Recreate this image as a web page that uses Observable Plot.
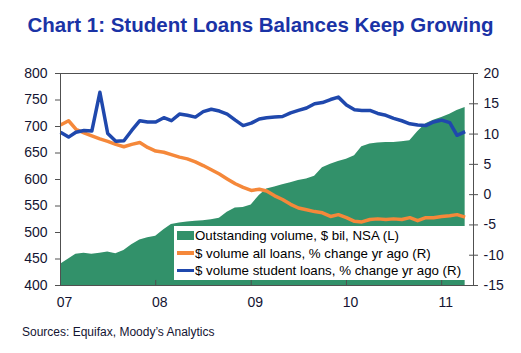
<!DOCTYPE html>
<html>
<head>
<meta charset="utf-8">
<script src="https://cdn.jsdelivr.net/npm/d3@7"></script>
<script src="https://cdn.jsdelivr.net/npm/@observablehq/plot@0.6"></script>
<style>
  body { margin: 0; background: #fff; font-family: "Liberation Sans", Arial, sans-serif; }
  #wrap { position: relative; width: 521px; height: 353px; overflow: hidden; }
  #title { height: 48px; position: relative; }
  #title span { position: absolute; left: 0; width: 521px; top: 15px; text-align: center;
    font: bold 20.5px/20.5px "Liberation Sans", Arial, sans-serif; color: #1a33a6; white-space: nowrap; }
  #caption { height: 35px; position: relative; }
  #caption span { position: absolute; left: 22px; top: 8px; font: 12px/12px "Liberation Sans", Arial, sans-serif; color: #141432; }
  #legend { position: absolute; left: 174px; top: 226px; width: 291px; height: 54px; background: #fff; }
  .row { position: absolute; left: 3px; height: 17px; display: flex; align-items: center;
    font: 13.3px/17px "Liberation Sans", Arial, sans-serif; color: #000; white-space: nowrap; }
  .sw { width: 17px; margin-right: 1px; }
</style>
</head>
<body>
<div id="wrap">
  <div id="title"><span>Chart 1: Student Loans Balances Keep Growing</span></div>
  <div id="chart"></div>
  <div id="caption"><span>Sources: Equifax, Moody’s Analytics</span></div>
  <div id="legend"></div>
</div>
<script>
// ---- data (monthly, Jan 2007 – Apr 2011) ----
const startMonth = "2007-01-01";
const volume = [440, 450, 459, 461, 459, 461, 463, 460, 466, 477, 486, 490,
  493, 505, 515, 518, 520, 521, 522, 524, 527, 538, 546, 547,
  552, 570, 582, 586, 590, 594, 598, 601, 606, 622, 629, 634,
  638, 645, 662, 667, 669, 670, 670, 671, 673, 690, 705, 712,
  717, 723, 730, 736];
const allLoans = [11.5, 12.2, 10.8, 10.2, 9.7, 9.2, 8.8, 8.3, 7.9, 8.3, 8.6, 7.8,
  7.2, 7.0, 6.6, 6.2, 5.9, 5.4, 4.8, 4.1, 3.4, 2.6, 1.8, 1.2,
  0.7, 0.9, 0.6, -0.2, -0.8, -1.6, -2.2, -2.5, -2.8, -3.0, -3.6, -3.3,
  -3.8, -4.4, -4.5, -4.1, -4.0, -4.1, -4.0, -4.1, -3.8, -4.3, -3.8, -3.8,
  -3.6, -3.5, -3.3, -3.7];
const studentLoans = [10.3, 9.5, 10.3, 10.6, 10.5, 16.9, 10.1, 8.8, 8.9, 10.6, 12.2, 12.0,
  12.0, 12.7, 12.2, 13.3, 13.1, 12.8, 13.7, 14.1, 13.8, 13.3, 12.3, 11.4,
  11.8, 12.5, 12.7, 12.8, 12.9, 13.5, 13.9, 14.3, 15.0, 15.2, 15.7, 16.1,
  14.8, 14.0, 13.9, 13.9, 13.4, 13.1, 12.6, 12.2, 11.7, 11.5, 11.4, 12.0,
  12.3, 11.9, 9.8, 10.4];
const xTickYears = ["2007", "2008", "2009", "2010", "2011"];
const xTickLabels = ["07", "08", "09", "10", "11"];
const leftTicks = [400, 450, 500, 550, 600, 650, 700, 750, 800];
const rightTicks = [-15, -10, -5, 0, 5, 10, 15, 20];
const seriesNames = ["Outstanding volume, $ bil, NSA (L)",
  "$ volume all loans, % change yr ago (R)",
  "$ volume student loans, % change yr ago (R)"];
const colors = ["#32916a", "#f5883a", "#1f48ad"];

// ---- build table ----
const start = new Date(startMonth + "T00:00:00Z");
const dates = volume.map((_, i) => d3.utcMonth.offset(start, i));
const rows = dates.map((date, i) => ({date, volume: volume[i], all: allLoans[i], student: studentLoans[i]}));

// right axis (-15..20) mapped onto left axis (400..800)
const L0 = 400, L1 = 800, R0 = -15, R1 = 20;
const toLeft = v => L0 + (v - R0) * (L1 - L0) / (R1 - R0);
const fromLeft = v => R0 + (v - L0) * (R1 - R0) / (L1 - L0);

const yearDates = xTickYears.map(y => new Date(y + "-01-01T00:00:00Z"));
const labelOf = new Map(yearDates.map((d, i) => [+d, xTickLabels[i]]));
const axisColor = "#505050";
const textColor = "#141432";
const xEnd = new Date("2011-05-03T00:00:00Z");

const chart = Plot.plot({
  width: 521,
  height: 270,
  marginTop: 25,
  marginBottom: 33,
  marginLeft: 60,
  marginRight: 48,
  style: {fontFamily: "Liberation Sans, Arial, sans-serif", fontSize: "14px", color: textColor, background: "#fff"},
  x: {type: "utc", domain: [start, xEnd], label: null},
  y: {domain: [L0, L1], label: null},
  marks: [
    Plot.areaY(rows, {x: "date", y1: L0, y2: "volume", fill: colors[0]}),
    Plot.lineY(rows, {x: "date", y: d => toLeft(d.all), stroke: colors[1], strokeWidth: 3.5, strokeLinejoin: "round", strokeLinecap: "butt"}),
    Plot.lineY(rows, {x: "date", y: d => toLeft(d.student), stroke: colors[2], strokeWidth: 3.5, strokeLinejoin: "round", strokeLinecap: "butt"}),
    Plot.frame({stroke: axisColor, strokeWidth: 1}),
    Plot.ruleX(yearDates.slice(1), {y1: L0, y2: L0 + 9.5, stroke: axisColor, strokeWidth: 1}),
    Plot.axisX(yearDates, {tickSize: 0, tickPadding: 12, dx: 4, label: null, tickFormat: d => labelOf.get(+d), fill: textColor, fontSize: 14}),
    Plot.axisY(leftTicks, {anchor: "left", label: null, tickSize: 5, tickPadding: 8, stroke: axisColor, fill: textColor, fontSize: 14}),
    Plot.axisY(rightTicks.map(toLeft), {anchor: "right", label: null, tickSize: 4, tickPadding: 6, stroke: axisColor, fill: textColor, fontSize: 14,
      tickFormat: d => String(Math.round(fromLeft(d)))}),
    Plot.ruleY(rightTicks.map(toLeft), {x1: d3.utcDay.offset(xEnd, -15), x2: xEnd, stroke: axisColor, strokeWidth: 1})
  ]
});
document.getElementById("chart").appendChild(chart);

// legend (HTML, drawn over the plot area)
const legend = document.getElementById("legend");
seriesNames.forEach((name, i) => {
  const row = document.createElement("div");
  row.className = "row";
  row.style.top = (1 + i * 17.5) + "px";
  const sw = document.createElement("span");
  sw.className = "sw";
  sw.style.height = i === 0 ? "9px" : "3.5px";
  sw.style.background = colors[i];
  row.appendChild(sw);
  const t = document.createElement("span");
  t.textContent = name;
  row.appendChild(t);
  legend.appendChild(row);
});
</script>
</body>
</html>
